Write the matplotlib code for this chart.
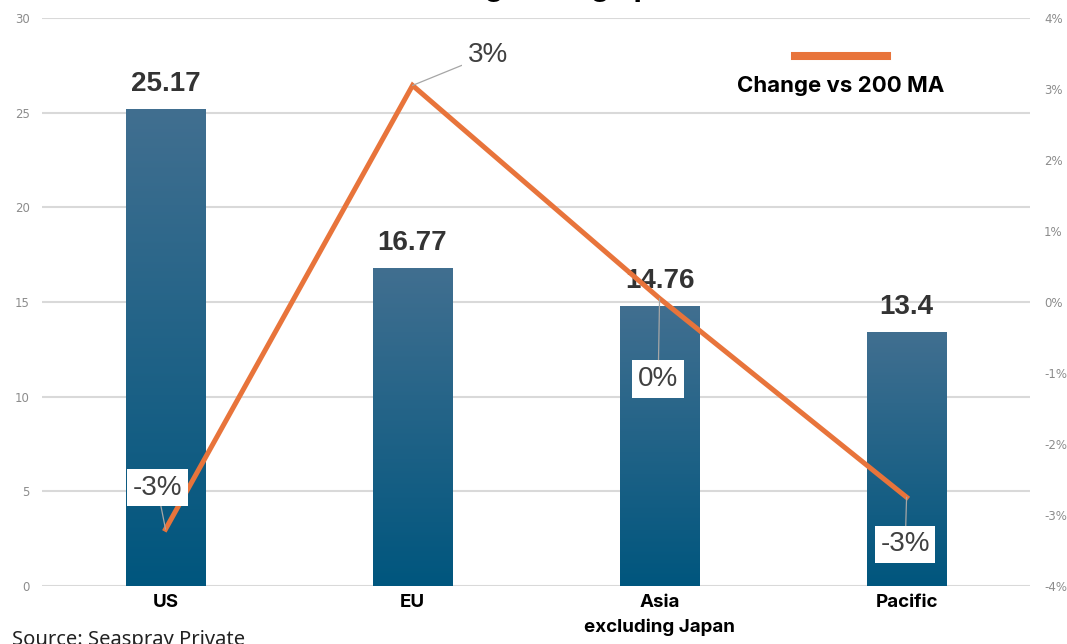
import matplotlib.pyplot as plt
import numpy as np
from matplotlib.colors import LinearSegmentedColormap
from matplotlib.lines import Line2D

regions = ["US", "EU", "Asia\nexcluding Japan", "Pacific"]
pe_ratio = [25.17, 16.77, 14.76, 13.4]
change_vs_ma = [-3.2, 3.05, 0.05, -2.75]
change_labels = ["-3%", "3%", "0%", "-3%"]
left_ticks = [0, 5, 10, 15, 20, 25, 30]
right_ticks = [-4, -3, -2, -1, 0, 1, 2, 3, 4]

# label offsets (points) for the line's data labels
label_offsets = [(-6, 30), (54, 22), (-1, -58), (-1, -34)]

BOLD_FONT = ["Inter", "DejaVu Sans"]


def main():
    fig = plt.figure(figsize=(10.67, 6.44), dpi=100)
    ax = fig.add_axes([0.0394, 0.0901, 0.926, 0.882])
    x = np.arange(len(regions))

    bars = ax.bar(x, pe_ratio, width=0.32, color="none", zorder=2)
    cmap = LinearSegmentedColormap.from_list("bar", ["#00567e", "#416f90"])
    grad = np.linspace(0, 1, 256).reshape(-1, 1)
    for b in bars:
        x0, w, h = b.get_x(), b.get_width(), b.get_height()
        ax.imshow(grad, extent=[x0, x0 + w, 0, h], origin="lower",
                  aspect="auto", cmap=cmap, zorder=2)
        ax.text(x0 + w / 2, h + 0.65, f"{h:g}", ha="center", va="bottom",
                fontsize=20, fontweight="bold", color="#333333",
                family="Liberation Sans")

    ax.set_xlim(-0.5, 3.5)
    ax.set_ylim(0, 30)
    ax.set_yticks(left_ticks)
    ax.grid(axis="y", color="#d9d9d9", lw=1.5, zorder=0)
    ax.set_axisbelow(True)
    ax.set_xticks(x, regions)
    for lab in ax.get_xticklabels():
        lab.set_family(BOLD_FONT)
        lab.set_fontweight("bold")
        lab.set_fontsize(13.5)
        lab.set_linespacing(1.55)
    ax.tick_params(axis="x", length=0, pad=6)
    ax.tick_params(axis="y", length=0, pad=9, labelsize=8.5,
                   labelcolor="#8c8c8c")
    for s in ax.spines.values():
        s.set_visible(False)

    ax2 = ax.twinx()
    ax2.set_ylim(-4, 4)
    ax2.set_yticks(right_ticks, [f"{v}%" for v in right_ticks])
    ax2.tick_params(axis="y", length=0, pad=10, labelsize=8.5,
                    labelcolor="#8c8c8c")
    for s in ax2.spines.values():
        s.set_visible(False)
    ax2.plot(x, change_vs_ma, color="#e8743b", lw=3.6, zorder=3,
             solid_joinstyle="miter")

    for i, (val, txt) in enumerate(zip(change_vs_ma, change_labels)):
        ax2.annotate(txt, (x[i], val), xytext=label_offsets[i],
                     textcoords="offset points", ha="center", va="center",
                     fontsize=20, color="#404040", family="Liberation Sans",
                     bbox=dict(boxstyle="square,pad=0.2", fc="white",
                               ec="none"),
                     arrowprops=dict(arrowstyle="-", color="#a6a6a6", lw=0.9,
                                     shrinkA=0, shrinkB=0),
                     zorder=4)

    # legend: line above label
    fig.add_artist(Line2D([795 / 1067, 887 / 1067], [1 - 56 / 644] * 2,
                          color="#e8743b", lw=5.8,
                          transform=fig.transFigure))
    fig.text(841 / 1067, 1 - 86 / 644, "Change vs 200 MA", ha="center",
             va="center", fontsize=16, fontweight="bold", family=BOLD_FONT)

    fig.text(0.569, 1.006, "Moving average performance", ha="center",
             va="baseline", fontsize=21, fontweight="bold", family=BOLD_FONT)
    fig.text(12 / 1067, -1 / 644, "Source: Seaspray Private", ha="left",
             va="baseline", fontsize=14.5, color="#222222",
             family="Noto Sans")

    fig.savefig("out.png", dpi=100)


if __name__ == "__main__":
    main()
